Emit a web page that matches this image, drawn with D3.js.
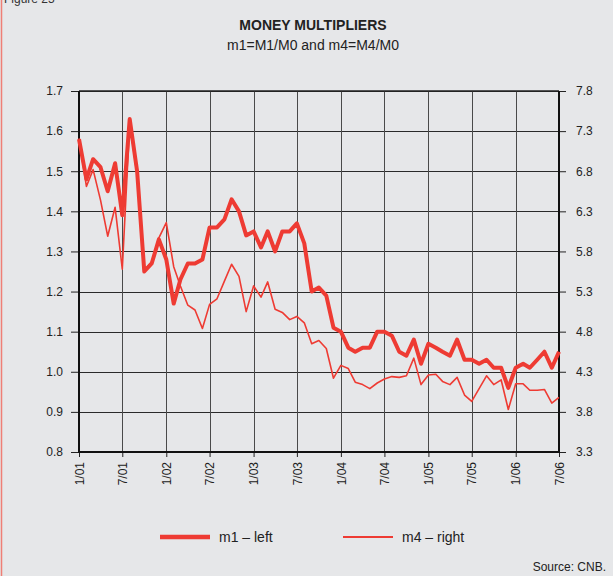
<!DOCTYPE html>
<html>
<head>
<meta charset="utf-8">
<script src="https://cdn.jsdelivr.net/npm/d3@7.9.0/dist/d3.min.js"></script>
<style>
  html, body { margin: 0; padding: 0; background: #e6e7e9; }
  svg { display: block; font-family: "Liberation Sans", Arial, sans-serif; }
</style>
</head>
<body>
<svg id="chart" width="613" height="576"></svg>
<script>
// monthly values, Jan 2001 .. Jul 2006
const startMonth = new Date(2001, 0, 1);
const m1 = [
  1.58, 1.48, 1.53, 1.51, 1.45, 1.52, 1.39, 1.63, 1.50, 1.25, 1.27, 1.33,
  1.28, 1.17, 1.23, 1.27, 1.27, 1.28, 1.36, 1.36, 1.38, 1.43, 1.40, 1.34,
  1.35, 1.31, 1.35, 1.30, 1.35, 1.35, 1.37, 1.32, 1.20, 1.21, 1.19, 1.11,
  1.10, 1.06, 1.05, 1.06, 1.06, 1.10, 1.10, 1.09, 1.05, 1.04, 1.08, 1.02,
  1.07, 1.06, 1.05, 1.04, 1.08, 1.03, 1.03, 1.02, 1.03, 1.01, 1.01, 0.96,
  1.01, 1.02, 1.01, 1.03, 1.05, 1.01, 1.05
];
const m4 = [
  7.21, 6.61, 6.82, 6.44, 5.99, 6.35, 5.58, 7.40, 6.75, 5.57, 5.67, 5.97,
  6.16, 5.61, 5.37, 5.13, 5.07, 4.84, 5.14, 5.21, 5.43, 5.64, 5.49, 5.05,
  5.37, 5.23, 5.42, 5.08, 5.04, 4.95, 4.99, 4.91, 4.65, 4.69, 4.59, 4.22,
  4.38, 4.34, 4.17, 4.14, 4.09, 4.16, 4.21, 4.24, 4.23, 4.25, 4.47, 4.14,
  4.26, 4.27, 4.18, 4.14, 4.23, 4.01, 3.93, 4.09, 4.25, 4.14, 4.20, 3.83,
  4.15, 4.15, 4.07, 4.07, 4.08, 3.91, 3.98
];
const leftTicks = [0.8, 0.9, 1.0, 1.1, 1.2, 1.3, 1.4, 1.5, 1.6, 1.7];
const rightTicks = [3.3, 3.8, 4.3, 4.8, 5.3, 5.8, 6.3, 6.8, 7.3, 7.8];
const legendItems = ['m1 \u2013 left', 'm4 \u2013 right'];

const red = '#ee3b33';
const svg = d3.select('#chart');

const area = { left: 79, right: 559, top: 91, bottom: 452 };

const dates = m1.map((_, i) => d3.timeMonth.offset(startMonth, i));

const x = d3.scaleTime()
  .domain(d3.extent(dates))
  .range([area.left, area.right]);
const yL = d3.scaleLinear().domain([0.8, 1.7]).range([area.bottom, area.top]);
const yR = d3.scaleLinear().domain([3.3, 7.8]).range([area.bottom, area.top]);

// left red edge + figure caption
svg.append('line')
  .attr('x1', 1.5).attr('x2', 1.5).attr('y1', 0).attr('y2', 576)
  .attr('stroke', '#ef7f76').attr('stroke-width', 1.5);
svg.append('text')
  .attr('x', 4).attr('y', 3)
  .attr('font-size', 12).attr('fill', '#333')
  .text('Figure 25');

// titles
svg.append('text')
  .attr('x', 313).attr('y', 30)
  .attr('text-anchor', 'middle')
  .attr('font-size', 14).attr('font-weight', 'bold').attr('fill', '#222')
  .text('MONEY MULTIPLIERS');
svg.append('text')
  .attr('x', 313).attr('y', 50)
  .attr('text-anchor', 'middle')
  .attr('font-size', 14).attr('fill', '#222')
  .text('m1=M1/M0 and m4=M4/M0');

// grid
const xTicks = d3.timeMonth.every(6).range(startMonth, d3.timeMonth.offset(dates[dates.length - 1], 1));

svg.append('g')
  .selectAll('line')
  .data(leftTicks.slice(1))
  .join('line')
  .attr('x1', area.left).attr('x2', area.right)
  .attr('y1', d => Math.round(yL(d)) + 0.5).attr('y2', d => Math.round(yL(d)) + 0.5)
  .attr('stroke', '#2a2a2a').attr('stroke-width', 1);

svg.append('g')
  .selectAll('line')
  .data(xTicks.slice(1, -1))
  .join('line')
  .attr('x1', d => Math.round(x(d)) + 0.5).attr('x2', d => Math.round(x(d)) + 0.5)
  .attr('y1', area.top).attr('y2', area.bottom)
  .attr('stroke', '#4a4a4a').attr('stroke-width', 1);

// axes
const fmt = d3.format('.1f');
const gl = svg.append('g')
  .attr('transform', `translate(${area.left},0)`)
  .call(d3.axisLeft(yL).tickValues(leftTicks).tickFormat(fmt).tickSize(8).tickPadding(8));
const gr = svg.append('g')
  .attr('transform', `translate(${area.right},0)`)
  .call(d3.axisRight(yR).tickValues(rightTicks).tickFormat(fmt).tickSize(7).tickPadding(10));
const gb = svg.append('g')
  .attr('transform', `translate(0,${area.bottom})`)
  .call(d3.axisBottom(x).tickValues(xTicks).tickFormat(d3.timeFormat('%-m/%y')).tickSize(5).tickPadding(6));

[gl, gr, gb].forEach(g => {
  g.select('.domain').remove();
  g.selectAll('.tick line').attr('stroke', '#222');
  g.selectAll('.tick text')
    .attr('font-size', 12)
    .attr('fill', '#222')
    .attr('font-family', '"Liberation Sans", Arial, sans-serif');
});

gb.selectAll('.tick text')
  .attr('transform', 'rotate(-90)')
  .attr('text-anchor', 'end')
  .attr('dy', '0.35em')
  .attr('x', -10)
  .attr('y', 0);

// frame
svg.append('line')
  .attr('x1', area.left).attr('x2', area.right)
  .attr('y1', area.top).attr('y2', area.top)
  .attr('stroke', '#222').attr('stroke-width', 1.5);
svg.append('line')
  .attr('x1', area.left - 1).attr('x2', area.right + 1)
  .attr('y1', area.bottom).attr('y2', area.bottom)
  .attr('stroke', '#111').attr('stroke-width', 2);
svg.append('line')
  .attr('x1', area.left).attr('x2', area.left)
  .attr('y1', area.top).attr('y2', area.bottom)
  .attr('stroke', '#111').attr('stroke-width', 2);
svg.append('line')
  .attr('x1', area.right).attr('x2', area.right)
  .attr('y1', area.top).attr('y2', area.bottom)
  .attr('stroke', '#111').attr('stroke-width', 2);

// series
const lineL = d3.line().x((d, i) => x(dates[i])).y(d => yL(d));
const lineR = d3.line().x((d, i) => x(dates[i])).y(d => yR(d));

svg.append('path')
  .datum(m4)
  .attr('d', lineR)
  .attr('fill', 'none')
  .attr('stroke', red).attr('stroke-width', 1.6)
  .attr('stroke-linejoin', 'round');

svg.append('path')
  .datum(m1)
  .attr('d', lineL)
  .attr('fill', 'none')
  .attr('stroke', red).attr('stroke-width', 4)
  .attr('stroke-linejoin', 'round');

// legend
const legend = svg.append('g');
const lx = [160, 343];
legend.selectAll('line')
  .data(legendItems)
  .join('line')
  .attr('x1', (d, i) => lx[i]).attr('x2', (d, i) => lx[i] + 50)
  .attr('y1', 537).attr('y2', 537)
  .attr('stroke', red)
  .attr('stroke-width', (d, i) => i === 0 ? 4.5 : 1.8);
legend.selectAll('text')
  .data(legendItems)
  .join('text')
  .attr('x', (d, i) => lx[i] + 59)
  .attr('y', 542)
  .attr('font-size', 14).attr('fill', '#222')
  .text(d => d);

svg.append('text')
  .attr('x', 606).attr('y', 571)
  .attr('text-anchor', 'end')
  .attr('font-size', 12).attr('fill', '#222')
  .text('Source: CNB.');
</script>
</body>
</html>
